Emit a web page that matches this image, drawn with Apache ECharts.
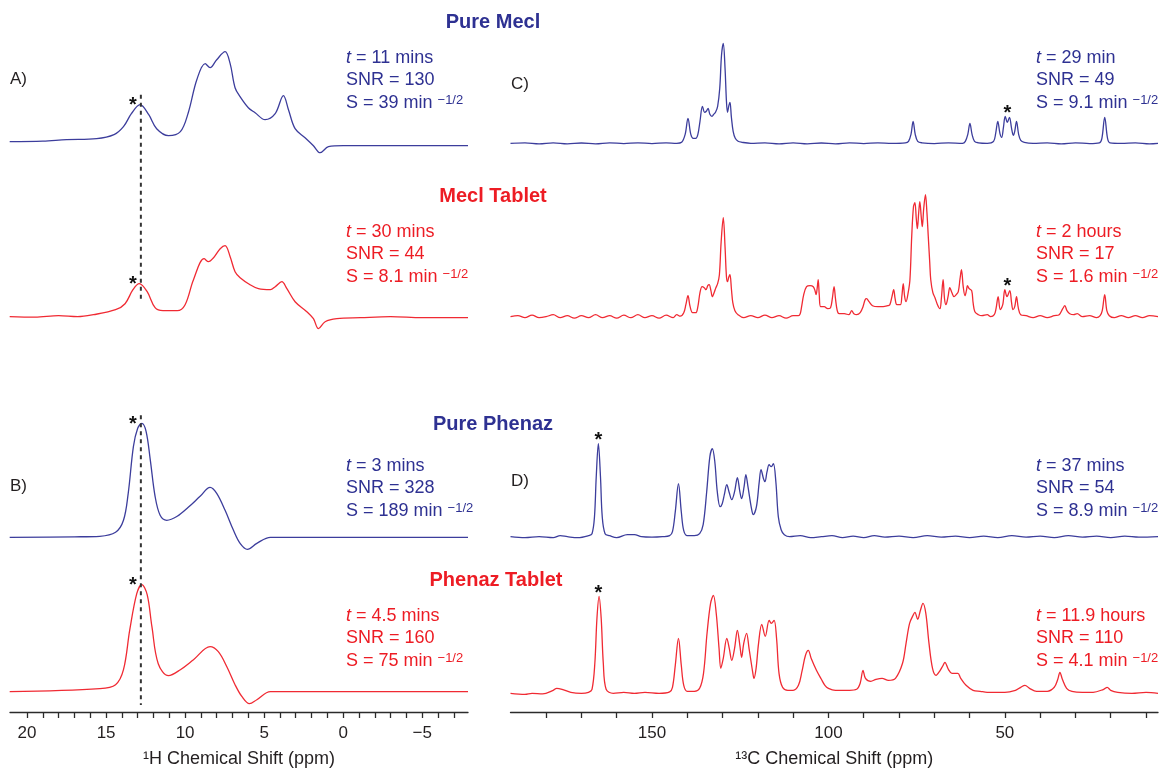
<!DOCTYPE html>
<html>
<head>
<meta charset="utf-8">
<script src="https://cdn.jsdelivr.net/npm/echarts@6/dist/echarts.min.js"></script>
<style>
html,body{margin:0;padding:0;background:#fff}
#chart{width:1161px;height:769px}
</style>
</head>
<body>
<div id="chart"></div>
<script>
// ---- 1H spectra: [chemical shift (ppm), intensity] ----
const h1PureMecl = [[21.1,0],[19,0.5],[17.5,2],[15.6,3],[14.5,7],[13.9,15],[13.4,28],[12.85,37],[12.3,27],[11.8,13],[11.05,6],[10.3,10],[9.8,29],[9.26,62],[8.73,78],[8.42,74],[8.0,82],[7.47,90],[7.15,78],[6.84,54],[6.52,45],[6.0,34],[5.57,29],[4.94,22],[4.3,28],[3.78,46],[3.46,32],[3.04,13],[2.41,4],[1.88,-4],[1.46,-11],[0.93,-5],[0,-4],[-4,-4],[-7.9,-4]];
const h1MeclTablet = [[21.1,0],[19.5,-0.5],[18,1],[16.8,0],[15.8,2],[14.4,7],[13.8,13],[13.3,27],[12.9,33],[12.4,25],[11.9,9],[11.4,6],[10.5,6],[10.0,12],[9.47,37],[8.8,58],[8.52,55],[8.2,59],[7.78,68],[7.47,71],[7.15,60],[6.84,45],[6.52,39],[5.89,32],[5.36,28],[4.6,27],[4.3,30],[3.88,35],[3.56,28],[3.04,15],[2.3,5],[1.88,-2],[1.56,-12],[1.14,-5],[0.4,-2],[-1.1,-1],[-3,0],[-5,-1],[-7.9,-1]];
const h1PurePhenaz = [[21.1,0],[17,0.5],[15.4,1],[14.4,5],[13.9,17],[13.6,44],[13.27,91],[13.0,109],[12.74,114],[12.47,106],[12.2,77],[11.9,41],[11.58,22],[11.16,17],[10.5,21],[9.8,30],[9.05,41],[8.42,50],[8.0,44],[7.47,27],[6.94,7],[6.52,-6],[6.06,-12],[5.46,-6],[4.6,0],[0,0],[-7.9,0]];
const h1PhenazTablet = [[21.1,0],[15.4,3],[14.4,7],[13.9,22],[13.5,62],[13.06,98],[12.74,107],[12.4,97],[12.1,65],[11.7,28],[11.05,16],[10.3,22],[9.47,32],[8.42,45],[7.9,40],[7.36,25],[6.84,7],[6.4,-5],[5.93,-12],[5.46,-8],[4.6,0],[0,0],[-7.9,0]];

// ---- 13C spectra: [chemical shift (ppm), intensity] ----
const c13PureMecl = [[190.1,0],[186,0.5],[182,-0.5],[178,0.5],[174,-0.5],[170,0.3],[166,-0.5],[162,0.5],[158,-0.3],[154,0.5],[150,-0.3],[146,0.5],[143,0],[141.6,1],[140.6,9],[139.8,25],[139.0,9],[138.3,5],[137.6,5],[137.0,9],[136.4,22],[135.7,37],[135.1,31],[134.6,32],[134.1,35],[133.6,29],[133.0,27],[132.5,29],[132.0,31],[131.4,37],[130.8,55],[130.3,88],[129.8,100],[129.3,75],[128.9,42],[128.6,31],[128.2,38],[127.9,41],[127.5,26],[127.0,12],[126.4,5],[125.6,2],[124.5,1],[122,0],[118,0.5],[114,-0.5],[110,0.5],[106,-0.5],[102,0.3],[98,-0.5],[94,0.5],[90,-0.3],[86,0.5],[82,0],[78.2,0.5],[77.3,2],[76.6,9],[76.0,22],[75.4,9],[74.7,2],[73.5,0.5],[70,-0.3],[66,0.5],[62,0],[61.2,2],[60.5,9],[59.9,20],[59.3,9],[58.6,2],[57.5,0.5],[55,0],[53.2,2],[52.6,10],[52.0,22],[51.4,10],[50.9,6],[50.4,16],[49.9,27],[49.3,21],[48.7,26],[48.1,15],[47.6,8],[47.2,12],[46.7,22],[46.1,9],[45.5,3],[44.5,1],[42,0],[38,0.5],[34,-0.5],[30,0.5],[26,-0.3],[23.2,0.5],[22.5,5],[21.7,26],[20.9,5],[20.2,0.5],[17,0],[13,0.5],[9,-0.5],[6.6,0]];
const c13MeclTablet = [[190.1,0],[188,1],[186,-1],[184,1.5],[182,-1],[180,0],[178,2],[176,-1],[174,1],[172,-1.5],[170,1],[168,-1],[166,2],[164,-1],[162,1],[160,-1.5],[158,1.5],[156,-1],[154,2],[152,-1],[150,1],[148,-1.5],[146,1.5],[144,-1],[143,2],[142,0.5],[141,4],[140.4,12],[139.8,21],[139.2,10],[138.5,4],[137.6,4],[137.0,10],[136.4,24],[135.8,30],[135.2,29],[134.7,27],[134.2,31],[133.8,32],[133.3,26],[132.9,20],[132.3,25],[131.9,29],[131.4,33],[130.9,42],[130.4,75],[129.8,99],[129.3,70],[128.9,40],[128.6,35],[128.2,40],[127.9,42],[127.5,28],[127.1,14],[126.5,6],[125.6,2],[124,-1],[122,1],[120,-1],[118,1.5],[116,-1],[114,1],[112,-1.5],[110,1],[108.5,1],[108,3],[107.6,10],[107.0,22],[106.2,30],[105.2,31],[104.3,30],[103.8,26],[103.5,22],[103.2,28],[102.9,37],[102.6,22],[102.2,10],[101.2,10],[100.2,8],[99.4,9],[98.9,18],[98.4,30],[98.0,18],[97.5,6],[97,3],[95.5,3],[94.2,2],[93.4,6],[92.8,3],[92,2],[91,4],[90.2,10],[89.6,17],[89.2,18],[88.5,15],[87.5,11],[86,10],[84.5,10],[83.2,11],[82.6,12],[82.0,20],[81.5,27],[81.1,18],[80.6,12],[79.6,12],[79.2,20],[78.8,33],[78.4,20],[78.0,15],[77.4,24],[76.9,37],[76.4,80],[75.9,110],[75.5,114],[75.1,98],[74.8,88],[74.4,105],[74.1,115],[73.7,100],[73.4,90],[73.0,108],[72.5,122],[72.1,105],[71.7,80],[71.3,55],[71.0,37],[70.4,24],[69.8,19],[69.1,12],[68.4,8],[68.0,18],[67.5,37],[67.1,18],[66.7,12],[66.1,20],[65.6,29],[65.0,24],[64.4,20],[63.8,22],[63.2,25],[62.7,38],[62.3,47],[61.8,30],[61.3,21],[60.9,26],[60.6,31],[60.1,28],[59.4,26],[59.0,14],[58.5,5],[57.5,2],[56.5,1],[55,2],[54,0],[53,2],[52.5,8],[51.9,20],[51.3,7],[50.6,12],[50.0,27],[49.4,20],[48.6,26],[48.1,14],[47.7,7],[47.2,10],[46.7,20],[46.2,9],[45.5,2],[44,1],[42,-1],[40,1],[38,-1],[36,1],[34.6,2],[33.6,8],[33.0,11],[32.4,6],[31.6,3],[30.5,2],[29.5,3],[28,0],[26,1],[24,-1],[23,1],[22.4,6],[21.7,22],[21.1,6],[20.4,1],[19,-1],[17,1],[15,-1],[13,1],[11,-1],[9,1],[6.6,0]];
const c13PurePhenaz = [[190.1,0],[186,-1],[182,0],[178,-1],[176,1],[174,0],[171,-1],[168,1],[167,3],[166.3,20],[165.8,60],[165.2,93],[164.6,60],[164.1,20],[163.3,3],[162,1],[160,-1],[157,2],[155,2],[153,0],[150,-0.5],[147,0],[145,1],[144.2,5],[143.4,25],[142.5,53],[141.7,25],[141,6],[140,1],[138,1],[136.5,3],[135.5,12],[134.5,45],[133.6,80],[132.9,88],[132.2,75],[131.5,45],[130.7,30],[130.1,33],[129.5,42],[128.8,52],[128.1,44],[127.4,37],[126.6,45],[125.8,59],[125.1,45],[124.6,38],[123.9,50],[123.4,62],[122.8,50],[121.8,28],[121.3,22],[120.4,30],[119.6,55],[119.1,67],[118.4,58],[118.0,55],[117.4,65],[116.8,72],[116.2,70],[115.6,73],[114.9,55],[114.2,20],[113.4,7],[112.5,2],[111,0],[108,1],[105,-1],[102,0],[99,1],[96,-1],[93,0.5],[90,-1],[87,1],[84,-0.5],[80,0.5],[76,-1],[72,1],[68,-0.5],[64,0.5],[60,-1],[56,0.5],[52,-1],[48,1],[44,-0.5],[40,0.5],[36,-1],[32,1],[28,-0.5],[24,0.5],[20,-1],[16,0.5],[12,-0.5],[6.6,0]];
const c13PhenazTablet = [[190.1,0],[186,-1],[184,0],[181,-0.5],[178,3],[177,5],[175.5,4],[173,1],[170,0],[168,1],[167,4],[166.2,30],[165.6,75],[165.0,97],[164.4,75],[163.8,30],[163,4],[161,0],[158,1],[155,0],[152,1],[148,0],[145,1.5],[144.2,6],[143.4,28],[142.5,55],[141.7,28],[141,8],[140,2],[138,2],[136.5,5],[135.4,20],[134.4,60],[133.4,90],[132.6,98],[131.8,80],[131,45],[130.5,25],[129.8,35],[128.8,55],[128.1,45],[127.4,33],[126.6,45],[125.8,63],[125.1,48],[124.6,36],[124,50],[123.2,60],[122.5,45],[121.5,22],[121.1,15],[120.5,25],[119.8,50],[118.9,69],[117.9,57],[116.8,73],[116.2,70],[115.4,73],[114.7,55],[114.0,20],[113,6],[111.5,3],[110,3],[108.5,8],[107.5,22],[106.5,38],[105.7,43],[104.9,35],[103.4,23],[102,14],[101,8],[100,5],[98,3],[94,3],[92,4],[91,10],[90.2,23],[89.5,15],[88,12],[86.5,14],[84.8,15],[83,13],[81,15],[79,30],[78,50],[77,70],[76,78],[75.5,81],[74.7,74],[74,82],[73.2,90],[72.4,80],[71.5,50],[70.5,25],[69.5,18],[68.5,22],[67.5,28],[67,31],[66,24],[65,20],[64,20],[63.3,20],[62.5,15],[61,8],[59,3],[57,2],[55,1],[50,1],[47,3],[45.5,6],[44.3,8],[43,5],[41,2],[38,2],[36,6],[35,14],[34.4,21],[33.7,14],[32.5,5],[31,2],[28,1],[25,1],[22,4],[21,6],[20,3],[18,1],[14,0],[10,1],[6.6,0]];

// ---- axis ticks and labels ----
const h1TickValues = [20,19,18,17,16,15,14,13,12,11,10,9,8,7,6,5,4,3,2,1,0,-1,-2,-3,-4,-5,-6,-7];
const h1LabelValues = [20,15,10,5,0,-5];
const c13TickValues = [180,170,160,150,140,130,120,110,100,90,80,70,60,50,40,30,20,10];
const c13LabelValues = [150,100,50];

// ---- shifts marked with an asterisk ----
const h1Marked = 12.8;
const c13MeclMarked = 49.3;
const c13PhenazMarked = 165.2;

// ---- texts ----
const sampleTitles = ['Pure Mecl', 'Mecl Tablet', 'Pure Phenaz', 'Phenaz Tablet'];
const panelLetters = ['A)', 'B)', 'C)', 'D)'];
// [acquisition time, SNR, sensitivity]
const h1Stats = [
  ['11 mins', '130', '39'],
  ['30 mins', '44', '8.1'],
  ['3 mins', '328', '189'],
  ['4.5 mins', '160', '75']
];
const c13Stats = [
  ['29 min', '49', '9.1'],
  ['2 hours', '17', '1.6'],
  ['37 mins', '54', '8.9'],
  ['11.9 hours', '110', '4.1']
];

const BLUE = '#3c3d9c';
const BLUE_TEXT = '#2e3192';
const RED = '#f02a33';
const RED_TEXT = '#ed1c24';
const INK = '#231f20';
const FONT = '"Liberation Sans", Arial, Helvetica, sans-serif';

const H1_RANGE = [-7.9, 21.08];
const C13_RANGE = [6.6, 190.1];
const Y_MIN = -20, Y_MAX = 130;

// baseline rows (pixels) of the four traces in each column
const rowBaseH1 = [141.7, 316.7, 537.3, 691.7];
const rowBaseC13 = [143.3, 316.7, 536.7, 693.3];
const COL_H1 = {left: 10, width: 458};
const COL_C13 = {left: 510.5, width: 647.5};
const AXIS_Y = 713;

const traces = [
  {data: h1PureMecl, col: 'h1', row: 0, color: BLUE},
  {data: h1MeclTablet, col: 'h1', row: 1, color: RED},
  {data: h1PurePhenaz, col: 'h1', row: 2, color: BLUE},
  {data: h1PhenazTablet, col: 'h1', row: 3, color: RED},
  {data: c13PureMecl, col: 'c13', row: 0, color: BLUE},
  {data: c13MeclTablet, col: 'c13', row: 1, color: RED},
  {data: c13PurePhenaz, col: 'c13', row: 2, color: BLUE},
  {data: c13PhenazTablet, col: 'c13', row: 3, color: RED}
];

const grids = [], xAxes = [], yAxes = [], series = [];
traces.forEach((t, i) => {
  const col = t.col === 'h1' ? COL_H1 : COL_C13;
  const base = (t.col === 'h1' ? rowBaseH1 : rowBaseC13)[t.row];
  const range = t.col === 'h1' ? H1_RANGE : C13_RANGE;
  grids.push({left: col.left, width: col.width, top: base - Y_MAX, height: Y_MAX - Y_MIN});
  xAxes.push({type: 'value', gridIndex: i, min: range[0], max: range[1], inverse: true, show: false});
  yAxes.push({type: 'value', gridIndex: i, min: Y_MIN, max: Y_MAX, show: false});
  series.push({
    type: 'line', xAxisIndex: i, yAxisIndex: i, data: t.data,
    showSymbol: false, smooth: 0.35, clip: false, silent: true,
    lineStyle: {color: t.color, width: 1.3}
  });
});

// shared chemical-shift axis under each column
function bottomAxis(gridIndex, range, ticks, labels, name) {
  return {
    type: 'value', gridIndex, min: range[0], max: range[1], inverse: true,
    position: 'bottom',
    axisLine: {show: true, onZero: false, lineStyle: {color: '#2b2b2b', width: 1.3}},
    axisTick: {show: true, customValues: ticks, length: 6, lineStyle: {color: '#2b2b2b', width: 1.3}},
    axisLabel: {customValues: labels, margin: 13, fontSize: 17, color: INK, fontFamily: FONT,
      formatter: v => (v < 0 ? '\u2212' + Math.abs(v) : String(v))},
    splitLine: {show: false},
    name, nameLocation: 'middle', nameGap: 38,
    nameTextStyle: {fontSize: 18, color: INK, fontFamily: FONT}
  };
}
[[COL_H1, H1_RANGE, h1TickValues, h1LabelValues, '\u00B9H Chemical Shift (ppm)'],
 [COL_C13, C13_RANGE, c13TickValues, c13LabelValues, '\u00B9\u00B3C Chemical Shift (ppm)']].forEach(a => {
  const gi = grids.length;
  grids.push({left: a[0].left, width: a[0].width, top: AXIS_Y - 10, height: 10});
  xAxes.push(bottomAxis(gi, a[1], a[2], a[3], a[4]));
  yAxes.push({type: 'value', gridIndex: gi, show: false, min: 0, max: 1});
});

const chart = echarts.init(document.getElementById('chart'), null, {renderer: 'canvas'});
chart.setOption({
  animation: false,
  backgroundColor: '#fff',
  grid: grids, xAxis: xAxes, yAxis: yAxes, series
});

// ---- overlay: dashed guide, asterisks, titles and statistics ----
function px(traceIndex, shift, value) {
  return chart.convertToPixel({gridIndex: traceIndex}, [shift, value]);
}
// highest point of a trace within +-win ppm of a shift
function localPeak(traceIndex, shift, win) {
  let best = null;
  traces[traceIndex].data.forEach(p => {
    if (Math.abs(p[0] - shift) <= win && (!best || p[1] > best[1])) best = p;
  });
  return px(traceIndex, shift, best[1]);
}

const g = [];
const dashStyle = {stroke: '#333', lineWidth: 2, lineDash: [4, 4]};
const xDash = px(0, h1Marked, 0)[0];
g.push({type: 'line', z: 10, style: dashStyle,
  shape: {x1: xDash, y1: localPeak(0, h1Marked, 0.3)[1] - 10, x2: xDash, y2: px(1, h1Marked, 0)[1] - 16}});
g.push({type: 'line', z: 10, style: dashStyle,
  shape: {x1: xDash, y1: localPeak(2, h1Marked, 0.3)[1] - 8, x2: xDash, y2: AXIS_Y - 8}});

function star(x, y) {
  g.push({type: 'text', x, y, z: 11, style: {text: '*', font: 'bold 20px ' + FONT, fill: '#111', align: 'center', verticalAlign: 'middle'}});
}
[0, 1, 2, 3].forEach(i => { const p = localPeak(i, h1Marked, 0.3); star(p[0] - 8, p[1] + 1); });
[[4, c13MeclMarked], [5, c13MeclMarked], [6, c13PhenazMarked], [7, c13PhenazMarked]].forEach(([i, s]) => {
  const p = localPeak(i, s, 1.5); star(p[0], p[1] - 3);
});

// sample titles between the columns
const titleY = [22, 196, 424, 580];
const titleX = [493, 493, 493, 496];
sampleTitles.forEach((t, i) => {
  g.push({type: 'text', x: titleX[i], y: titleY[i], style: {text: t, font: 'bold 20px ' + FONT,
    fill: i % 2 ? RED_TEXT : BLUE_TEXT, align: 'center', verticalAlign: 'middle'}});
});

// panel letters
[[10, 79], [10, 486], [511, 84], [511, 481]].forEach((p, i) => {
  g.push({type: 'text', x: p[0], y: p[1], style: {text: panelLetters[i], font: '17px ' + FONT, fill: INK, align: 'left', verticalAlign: 'middle'}});
});

// acquisition statistics: blue for pure compounds, red for tablets
const statTop = [58, 232, 466, 616];
function stats(x, rows) {
  rows.forEach((r, i) => {
    const color = i % 2 ? RED_TEXT : BLUE_TEXT;
    const y0 = statTop[i];
    const f = '18px ' + FONT;
    g.push({type: 'text', x, y: y0, style: {text: '{i|t} = ' + r[0], font: f, fill: color, verticalAlign: 'middle',
      rich: {i: {font: 'italic 18px ' + FONT, fill: color}}}});
    g.push({type: 'text', x, y: y0 + 22.5, style: {text: 'SNR = ' + r[1], font: f, fill: color, verticalAlign: 'middle'}});
    g.push({type: 'text', x, y: y0 + 45, style: {text: 'S = ' + r[2] + ' min {s|\u22121/2}', font: f, fill: color, verticalAlign: 'middle',
      rich: {s: {font: '13px ' + FONT, fill: color, verticalAlign: 'top'}}}});
  });
}
stats(346, h1Stats);
stats(1036, c13Stats);

chart.setOption({graphic: g});
</script>
</body>
</html>
